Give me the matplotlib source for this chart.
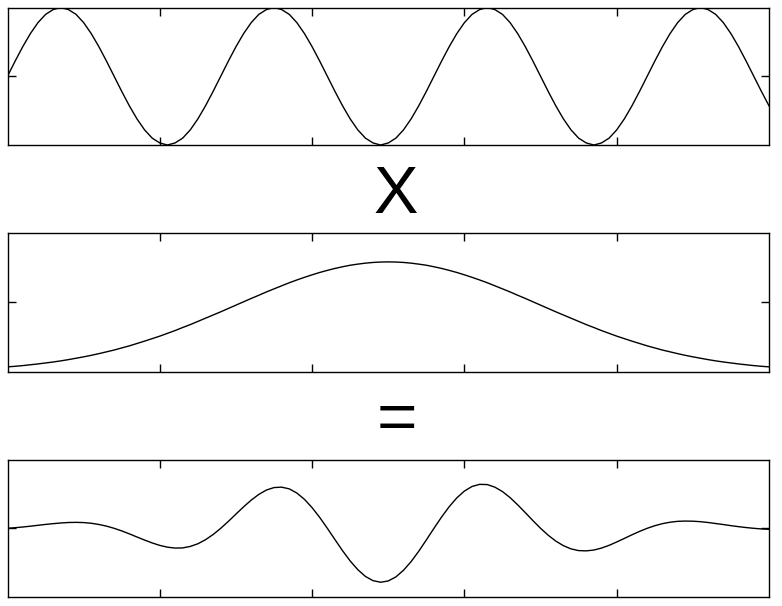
import numpy as np
import matplotlib
matplotlib.use('Agg')
import matplotlib.pyplot as plt

# 값은 그림에서 읽은 추정치 (x = 0 ~ 5, 0.05 간격)
carrier = [0, .22, .43, .62, .78, .90, .97, 1.00, .97, .90, .78, .62, .43, .22,
           0, -.22, -.43, -.62, -.78, -.90, -.97, -1.00, -.97, -.90, -.78, -.62, -.43, -.22,
           0, .22, .43, .62, .78, .90, .97, 1.00, .97, .90, .78, .62, .43, .22,
           0, -.22, -.43, -.62, -.78, -.90, -.97, -1.00, -.97, -.90, -.78, -.62, -.43, -.22,
           0, .22, .43, .62, .78, .90, .97, 1.00, .97, .90, .78, .62, .43, .22,
           0, -.22, -.43, -.62, -.78, -.90, -.97, -1.00, -.97, -.90, -.78, -.62, -.43, -.22,
           0, .22, .43, .62, .78, .90, .97, 1.00, .97, .90, .78, .62, .43, .22,
           0, -.22, -.43]

envelope = [0.035, 0.039, 0.044, 0.050, 0.056, 0.063, 0.070, 0.078, 0.087, 0.097,
            0.107, 0.118, 0.130, 0.143, 0.156, 0.171, 0.186, 0.203, 0.220, 0.238,
            0.256, 0.276, 0.296, 0.318, 0.339, 0.362, 0.385, 0.408, 0.431, 0.455,
            0.479, 0.503, 0.527, 0.550, 0.574, 0.596, 0.618, 0.640, 0.660, 0.679,
            0.697, 0.714, 0.729, 0.743, 0.755, 0.766, 0.774, 0.781, 0.786, 0.789,
            0.790,
            0.789, 0.786, 0.781, 0.774, 0.766, 0.755, 0.743, 0.729, 0.714, 0.697,
            0.679, 0.660, 0.640, 0.618, 0.596, 0.574, 0.550, 0.527, 0.503, 0.479,
            0.455, 0.431, 0.408, 0.385, 0.362, 0.339, 0.318, 0.296, 0.276, 0.256,
            0.238, 0.220, 0.203, 0.186, 0.171, 0.156, 0.143, 0.130, 0.118, 0.107,
            0.097, 0.087, 0.078, 0.070, 0.063, 0.056, 0.050, 0.044, 0.039, 0.035]

product = [0, 0.009, 0.019, 0.031, 0.044, 0.057, 0.068, 0.078, 0.085, 0.087,
           0.084, 0.074, 0.056, 0.032, 0, -0.038, -0.081, -0.127, -0.172, -0.214,
           -0.250, -0.276, -0.289, -0.287, -0.265, -0.226, -0.167, -0.091, 0, 0.101,
           0.208, 0.314, 0.412, 0.496, 0.560, 0.596, 0.602, 0.577, 0.516, 0.423,
           0.302, 0.159, 0, -0.165, -0.328, -0.478, -0.605, -0.704, -0.766, -0.789,
           -0.770, -0.711, -0.614, -0.487, -0.336, -0.170, 0, 0.165, 0.316, 0.445,
           0.545, 0.612, 0.643, 0.640, 0.602, 0.537, 0.449, 0.343, 0.229, 0.112,
           0, -0.101, -0.187, -0.254, -0.301, -0.326, -0.330, -0.318, -0.289, -0.249,
           -0.200, -0.148, -0.095, -0.045, 0, 0.038, 0.068, 0.089, 0.102, 0.106,
           0.104, 0.097, 0.085, 0.070, 0.055, 0.039, 0.024, 0.011, 0, -0.009,
           -0.015]

x = np.linspace(0, 5, len(carrier))
x_ticks = [1, 2, 3, 4]

fig = plt.figure(figsize=(7.82, 6.06), dpi=100)

# [left, bottom, width, height] - 세 개의 패널
panels = [
    (carrier, (-1, 1), 0, [0.0096, 0.7607, 0.9738, 0.2269]),
    (envelope, (0, 1), 0.5, [0.0096, 0.3866, 0.9738, 0.2294]),
    (product, (-1, 1), 0, [0.0096, 0.0154, 0.9738, 0.2256]),
]

for y, ylim, ytick, pos in panels:
    ax = fig.add_axes(pos)
    ax.plot(x, y, color='black', lw=1.0)
    ax.set_xlim(0, 5)
    ax.set_ylim(*ylim)
    ax.set_xticks(x_ticks)
    ax.set_yticks([ytick])
    ax.tick_params(direction='in', length=6, width=1, top=True, right=True,
                   labelbottom=False, labelleft=False)
    for s in ax.spines.values():
        s.set_linewidth(1.0)

fig.text(0.5064, 0.6485, 'X', fontsize=48, family='Liberation Sans',
         ha='center', va='baseline')
fig.text(0.5075, 0.2734, '=', fontsize=50, family='Liberation Sans',
         ha='center', va='baseline')

plt.savefig('out.png', dpi=100)
